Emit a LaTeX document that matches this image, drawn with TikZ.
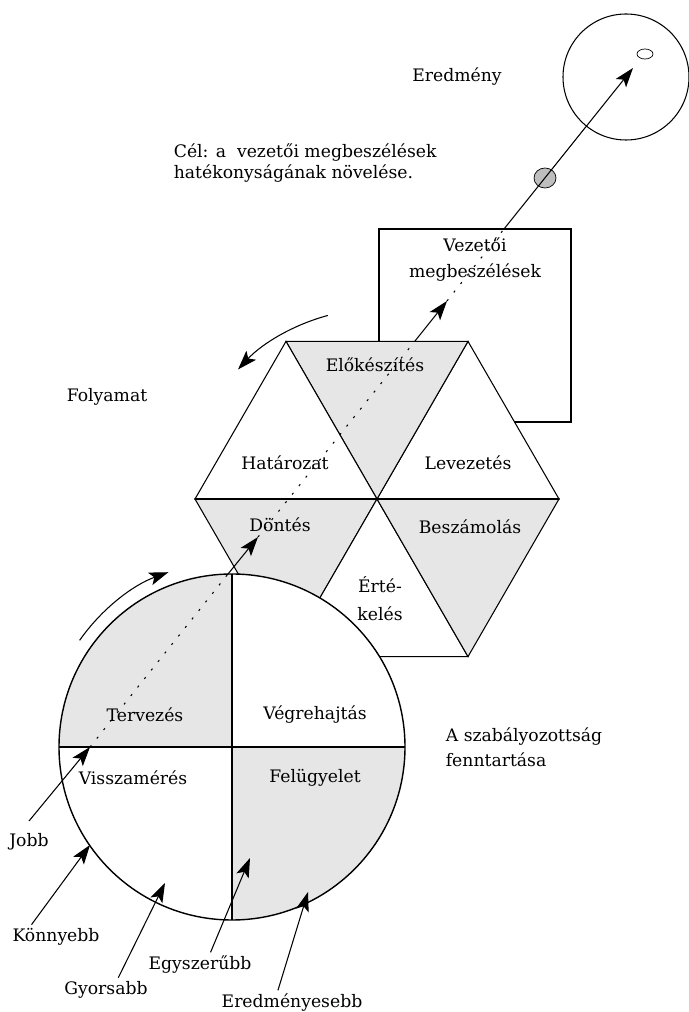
\documentclass[tikz,border=0pt]{standalone}
\usepackage{fontspec}
\setmainfont{DejaVu Serif}
\usetikzlibrary{positioning, arrows.meta, calc, shapes.geometric}
\definecolor{cellgray}{RGB}{230,230,230}
\definecolor{spotgray}{RGB}{190,190,190}

\begin{document}
\begin{tikzpicture}[
    x=0.02cm, y=0.02cm,
    lbl/.style={font=\fontsize{9.8pt}{13pt}\selectfont, align=center, inner sep=2pt},
    cellw/.style={draw, semithick, fill=white},
    cellg/.style={draw, semithick, fill=cellgray},
    arr/.style={-{Stealth[length=11pt, width=7.5pt, inset=2.5pt]}, semithick},
    dots/.style={semithick, dash pattern=on 1.2pt off 5pt}
]
    \useasboundingbox (0,0) rectangle (689,1012);

    \coordinate (hexc) at (377,513);
    \coordinate (pdca) at (232,265);
    \coordinate (goalc) at (626,935);

    \node[draw, semithick, minimum width=3.84cm, minimum height=3.86cm, inner sep=0pt] (meeting) at (475,686.5) {};

    \draw[cellw] (hexc) -- ($(hexc)+(0:182)$) -- ($(hexc)+(60:182)$) -- cycle;
    \draw[cellg] (hexc) -- ($(hexc)+(60:182)$) -- ($(hexc)+(120:182)$) -- cycle;
    \draw[cellw] (hexc) -- ($(hexc)+(120:182)$) -- ($(hexc)+(180:182)$) -- cycle;
    \draw[cellg] (hexc) -- ($(hexc)+(180:182)$) -- ($(hexc)+(240:182)$) -- cycle;
    \draw[cellw] (hexc) -- ($(hexc)+(240:182)$) -- ($(hexc)+(300:182)$) -- cycle;
    \draw[cellg] (hexc) -- ($(hexc)+(300:182)$) -- ($(hexc)+(360:182)$) -- cycle;
    \draw[thick] ($(hexc)+(180:182)$) -- ($(hexc)+(0:182)$);

    \fill[white] (pdca) circle[radius=173];
    \fill[cellgray] (pdca) -- ($(pdca)+(180:173)$) arc[start angle=180, end angle=90, radius=173] -- cycle;
    \fill[cellgray] (pdca) -- ($(pdca)+(0:173)$) arc[start angle=0, end angle=-90, radius=173] -- cycle;
    \draw[thick] (pdca) circle[radius=173];
    \draw[thick] ($(pdca)+(90:173)$) -- ($(pdca)+(270:173)$);
    \draw[thick] ($(pdca)+(180:173)$) -- ($(pdca)+(0:173)$);

    \draw[semithick] (goalc) circle[radius=63];
    \node[draw, fill=spotgray, ellipse, minimum width=22*0.02cm, minimum height=20*0.02cm, inner sep=0pt] (spot) at (545,834) {};
    \node[draw, fill=white, ellipse, minimum width=16*0.02cm, minimum height=10*0.02cm, inner sep=0pt] (aim) at (645,958) {};

    \coordinate (s1) at (90,265);
    \coordinate (s2) at (228,438);
    \coordinate (s3) at (258,475);
    \coordinate (s4) at (415,671);
    \coordinate (s5) at (447,711);
    \coordinate (s6) at (504,783);
    \coordinate (s7) at (633,944);

    \draw[dots] (s1) -- (s2);
    \draw[arr] (s2) -- (s3);
    \draw[dots] (s3) -- (s4);
    \draw[arr] (s4) -- (s5);
    \draw[dots] (s5) -- (s6);
    \draw[arr] (s6) -- (s7);

    \draw[arr] ($(pdca)+(145:186)$) arc[start angle=145, end angle=110, radius=186];
    \draw[arr] ($(hexc)+(105:190)$) arc[start angle=105, end angle=137, radius=190];

    \node[lbl] (result) at (457,935) {Eredmény};
    \node[lbl, anchor=west, align=left, font=\fontsize{9.8pt}{11.8pt}\selectfont] (goal) at (170,849) {Cél: a~ vezetői megbeszélések\\hatékonyságának növelése.};
    \node[lbl, below=3pt of meeting.north, font=\fontsize{9.8pt}{15pt}\selectfont] (meetlbl) {Vezetői\\megbeszélések};
    \node[lbl] (prep) at (375,647) {Előkészítés};
    \node[lbl] (resol) at (285,549) {Határozat};
    \node[lbl] (lead) at (468,549) {Levezetés};
    \node[lbl] (decide) at (280,487) {Döntés};
    \node[lbl] (report) at (470,485) {Beszámolás};
    \node[lbl, font=\fontsize{9.8pt}{16pt}\selectfont] (assess) at (380,413) {Érté-\\kelés};
    \node[lbl] (process) at (107,615) {Folyamat};
    \node[lbl] (plan) at (145,297) {Tervezés};
    \node[lbl] (exec) at (315,297) {Végrehajtás};
    \node[lbl] (measure) at (133,234) {Visszamérés};
    \node[lbl] (supervise) at (315,234) {Felügyelet};
    \node[lbl, anchor=west, align=left, font=\fontsize{9.8pt}{14pt}\selectfont] (keep) at (442,265) {A szabályozottság\\fenntartása};

    \node[lbl] (better) at (29,170) {Jobb};
    \node[lbl] (easier) at (56,75) {Könnyebb};
    \node[lbl] (faster) at (106,22) {Gyorsabb};
    \node[lbl] (simpler) at (200,47) {Egyszerűbb};
    \node[lbl] (effective) at (292,9) {Eredményesebb};

    \coordinate (t2) at (90,167);
    \coordinate (t3) at (165,129);
    \coordinate (t4) at (250,154);
    \coordinate (t5) at (308,120);

    \draw[arr] ([yshift=5pt]better.north) -- (s1);
    \draw[arr] ([xshift=13pt]easier.north west) -- (t2);
    \draw[arr] ([xshift=7pt]faster.north) -- (t3);
    \draw[arr] ([xshift=6pt]simpler.north) -- (t4);
    \draw[arr] ([xshift=-8pt]effective.north) -- (t5);
\end{tikzpicture}
\end{document}
